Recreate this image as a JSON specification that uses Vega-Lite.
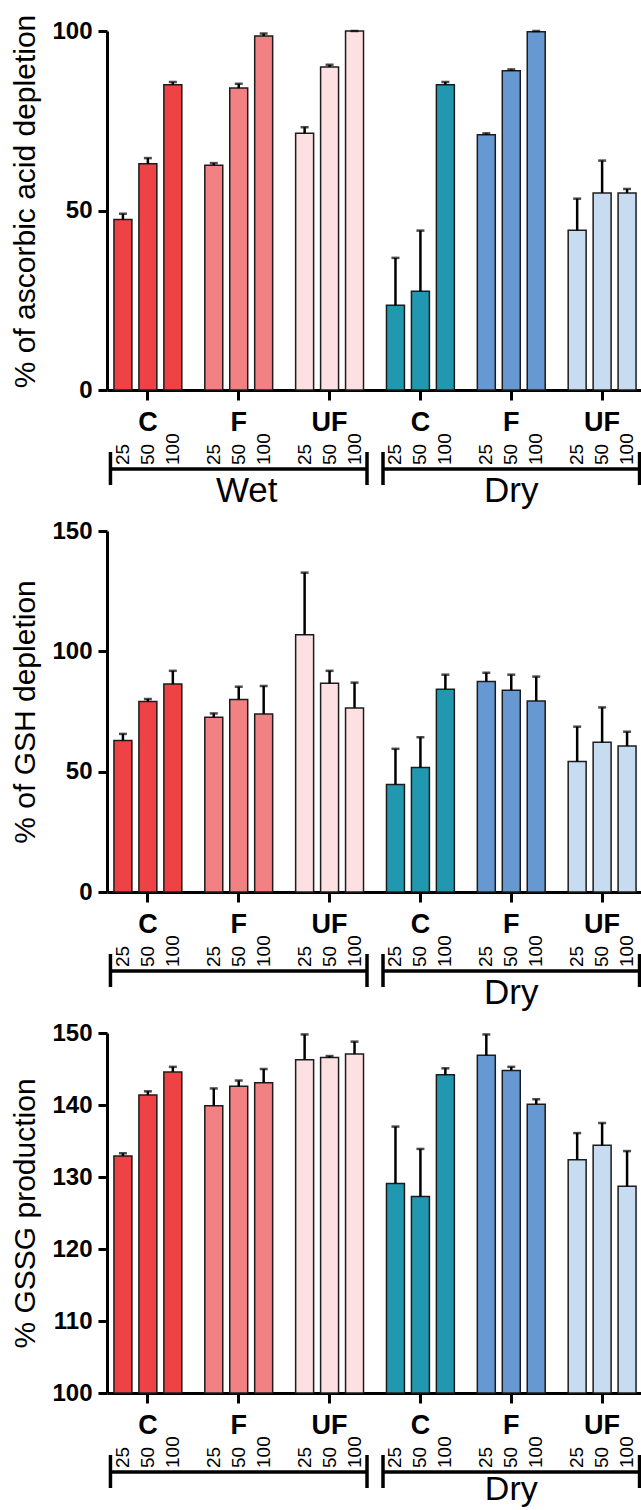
{
  "$schema": "https://vega.github.io/schema/vega-lite/v6.json",
  "background": "white",
  "padding": {"left": 10, "top": 14, "right": 0, "bottom": 0},
  "bounds": "flush",
  "spacing": 141,
  "config": {
    "font": "Liberation Sans",
    "view": {"stroke": null},
    "axis": {"grid": false, "domainColor": "black", "domainWidth": 3, "tickColor": "black", "tickWidth": 3, "labelColor": "black", "labelFont": "Liberation Sans", "labelFontWeight": "bold", "titleColor": "black", "titleFont": "Liberation Sans"},
    "axisX": {"labelFontSize": 27, "tickSize": 10, "labelPadding": 9, "labelAngle": 0},
    "axisY": {"labelFontSize": 24, "tickSize": 9, "labelPadding": 6, "titlePadding": 11, "titleFontSize": 30, "titleFontWeight": "normal"}
  },
  "datasets": {
    "d1": [
      {"grp": "Wet C", "conc": "25", "value": 47.5, "upper": 49.1},
      {"grp": "Wet C", "conc": "50", "value": 63.0, "upper": 64.6},
      {"grp": "Wet C", "conc": "100", "value": 85.0, "upper": 85.8},
      {"grp": "Wet F", "conc": "25", "value": 62.6, "upper": 63.2},
      {"grp": "Wet F", "conc": "50", "value": 84.1, "upper": 85.3},
      {"grp": "Wet F", "conc": "100", "value": 98.6, "upper": 99.3},
      {"grp": "Wet UF", "conc": "25", "value": 71.5, "upper": 73.2},
      {"grp": "Wet UF", "conc": "50", "value": 90.0, "upper": 90.6},
      {"grp": "Wet UF", "conc": "100", "value": 100.0, "upper": 100.0},
      {"grp": "Dry C", "conc": "25", "value": 23.6, "upper": 36.8},
      {"grp": "Dry C", "conc": "50", "value": 27.5, "upper": 44.4},
      {"grp": "Dry C", "conc": "100", "value": 85.0, "upper": 85.8},
      {"grp": "Dry F", "conc": "25", "value": 71.1, "upper": 71.5},
      {"grp": "Dry F", "conc": "50", "value": 88.9, "upper": 89.3},
      {"grp": "Dry F", "conc": "100", "value": 99.8, "upper": 100.0},
      {"grp": "Dry UF", "conc": "25", "value": 44.5, "upper": 53.3},
      {"grp": "Dry UF", "conc": "50", "value": 54.9, "upper": 63.9},
      {"grp": "Dry UF", "conc": "100", "value": 54.9, "upper": 56.0}
    ],
    "d2": [
      {"grp": "Wet C", "conc": "25", "value": 62.9, "upper": 65.7},
      {"grp": "Wet C", "conc": "50", "value": 79.2, "upper": 80.2},
      {"grp": "Wet C", "conc": "100", "value": 86.4, "upper": 91.9},
      {"grp": "Wet F", "conc": "25", "value": 72.6, "upper": 74.2},
      {"grp": "Wet F", "conc": "50", "value": 80.0, "upper": 85.3},
      {"grp": "Wet F", "conc": "100", "value": 74.0, "upper": 85.6},
      {"grp": "Wet UF", "conc": "25", "value": 106.9, "upper": 132.7},
      {"grp": "Wet UF", "conc": "50", "value": 86.7, "upper": 91.9},
      {"grp": "Wet UF", "conc": "100", "value": 76.5, "upper": 87.0},
      {"grp": "Dry C", "conc": "25", "value": 44.7, "upper": 59.5},
      {"grp": "Dry C", "conc": "50", "value": 51.7, "upper": 64.3},
      {"grp": "Dry C", "conc": "100", "value": 84.2, "upper": 90.3},
      {"grp": "Dry F", "conc": "25", "value": 87.5, "upper": 91.1},
      {"grp": "Dry F", "conc": "50", "value": 83.8, "upper": 90.3},
      {"grp": "Dry F", "conc": "100", "value": 79.4, "upper": 89.5},
      {"grp": "Dry UF", "conc": "25", "value": 54.2, "upper": 68.7},
      {"grp": "Dry UF", "conc": "50", "value": 62.2, "upper": 76.7},
      {"grp": "Dry UF", "conc": "100", "value": 60.7, "upper": 66.6}
    ],
    "d3": [
      {"grp": "Wet C", "conc": "25", "value": 132.9, "upper": 133.3},
      {"grp": "Wet C", "conc": "50", "value": 141.4, "upper": 141.9},
      {"grp": "Wet C", "conc": "100", "value": 144.6, "upper": 145.3},
      {"grp": "Wet F", "conc": "25", "value": 139.9, "upper": 142.3},
      {"grp": "Wet F", "conc": "50", "value": 142.6, "upper": 143.4},
      {"grp": "Wet F", "conc": "100", "value": 143.1, "upper": 145.0},
      {"grp": "Wet UF", "conc": "25", "value": 146.3, "upper": 149.8},
      {"grp": "Wet UF", "conc": "50", "value": 146.6, "upper": 146.8},
      {"grp": "Wet UF", "conc": "100", "value": 147.1, "upper": 148.8},
      {"grp": "Dry C", "conc": "25", "value": 129.1, "upper": 137.0},
      {"grp": "Dry C", "conc": "50", "value": 127.3, "upper": 133.9},
      {"grp": "Dry C", "conc": "100", "value": 144.2, "upper": 145.1},
      {"grp": "Dry F", "conc": "25", "value": 146.9, "upper": 149.8},
      {"grp": "Dry F", "conc": "50", "value": 144.8, "upper": 145.3},
      {"grp": "Dry F", "conc": "100", "value": 140.1, "upper": 140.8},
      {"grp": "Dry UF", "conc": "25", "value": 132.4, "upper": 136.1},
      {"grp": "Dry UF", "conc": "50", "value": 134.4, "upper": 137.5},
      {"grp": "Dry UF", "conc": "100", "value": 128.7, "upper": 133.6}
    ],
    "br": [
      {"cond": "Wet", "first": "Wet C", "mid": "Wet F", "last": "Wet UF"},
      {"cond": "Dry", "first": "Dry C", "mid": "Dry F", "last": "Dry UF"}
    ]
  },
  "vconcat": [
    {
      "width": 536,
      "height": 359,
      "layer": [
        {
          "data": {"name": "d1"},
          "mark": {"type": "bar", "stroke": "#1c1c1c", "strokeWidth": 1.5},
          "encoding": {
            "x": {"field": "grp", "type": "nominal", "title": null, "scale": {"domain": ["Wet C", "Wet F", "Wet UF", "Dry C", "Dry F", "Dry UF"], "paddingInner": 0.176, "paddingOuter": 0.038}, "axis": {"labelExpr": "split(datum.label, ' ')[1]"}},
            "xOffset": {"field": "conc", "type": "nominal", "scale": {"domain": ["25", "50", "100"], "paddingInner": 0.28, "paddingOuter": 0.14}},
            "y": {"field": "value", "type": "quantitative", "title": "% of ascorbic acid depletion", "scale": {"domain": [0, 100], "nice": false}, "axis": {"values": [0, 50, 100], "titleY": 170}},
            "color": {"field": "grp", "type": "nominal", "legend": null, "scale": {"domain": ["Wet C", "Wet F", "Wet UF", "Dry C", "Dry F", "Dry UF"], "range": ["#ee4245", "#f28183", "#fde0e1", "#2198b0", "#6698d1", "#c8dcf1"]}}
          }
        },
        {
          "data": {"name": "d1"},
          "mark": {"type": "rule", "color": "black", "strokeWidth": 2.5},
          "encoding": {
            "x": {"field": "grp", "type": "nominal", "title": null},
            "xOffset": {"field": "conc", "type": "nominal"},
            "y": {"field": "upper", "type": "quantitative", "title": "% of ascorbic acid depletion", "scale": {"domain": [0, 100], "nice": false}},
            "y2": {"field": "value"}
          }
        },
        {
          "data": {"name": "d1"},
          "mark": {"type": "tick", "color": "black", "thickness": 2.5, "size": 8},
          "encoding": {
            "x": {"field": "grp", "type": "nominal", "title": null},
            "xOffset": {"field": "conc", "type": "nominal"},
            "y": {"field": "upper", "type": "quantitative", "title": "% of ascorbic acid depletion", "scale": {"domain": [0, 100], "nice": false}}
          }
        },
        {
          "data": {"name": "d1"},
          "mark": {"type": "text", "angle": 270, "align": "left", "baseline": "middle", "dx": -75, "fontSize": 19, "color": "black"},
          "encoding": {
            "x": {"field": "grp", "type": "nominal", "title": null},
            "xOffset": {"field": "conc", "type": "nominal"},
            "y": {"value": "height"},
            "text": {"field": "conc"}
          }
        },
        {
          "data": {"name": "br"},
          "mark": {"type": "rule", "color": "black", "strokeWidth": 3.5, "yOffset": 79},
          "encoding": {
            "x": {"field": "first", "type": "nominal", "bandPosition": 0, "title": null},
            "x2": {"field": "last", "bandPosition": 1},
            "y": {"value": "height"}
          }
        },
        {
          "data": {"name": "br"},
          "mark": {"type": "rule", "color": "black", "strokeWidth": 3.5, "yOffset": 62, "y2Offset": 95},
          "encoding": {
            "x": {"field": "first", "type": "nominal", "bandPosition": 0, "title": null},
            "y": {"value": "height"},
            "y2": {"value": "height"}
          }
        },
        {
          "data": {"name": "br"},
          "mark": {"type": "rule", "color": "black", "strokeWidth": 3.5, "yOffset": 62, "y2Offset": 95},
          "encoding": {
            "x": {"field": "last", "type": "nominal", "bandPosition": 1, "title": null},
            "y": {"value": "height"},
            "y2": {"value": "height"}
          }
        },
        {
          "data": {"name": "br"},
          "transform": [{"filter": "datum.cond == 'Wet'"}],
          "mark": {"type": "text", "baseline": "middle", "dy": 101, "dx": 8, "fontSize": 35, "color": "black"},
          "encoding": {
            "x": {"field": "mid", "type": "nominal", "title": null},
            "y": {"value": "height"},
            "text": {"field": "cond"}
          }
        },
        {
          "data": {"name": "br"},
          "transform": [{"filter": "datum.cond == 'Dry'"}],
          "mark": {"type": "text", "baseline": "middle", "dy": 101, "fontSize": 35, "color": "black"},
          "encoding": {
            "x": {"field": "mid", "type": "nominal", "title": null},
            "y": {"value": "height"},
            "text": {"field": "cond"}
          }
        }
      ]
    },
    {
      "width": 536,
      "height": 361,
      "layer": [
        {
          "data": {"name": "d2"},
          "mark": {"type": "bar", "stroke": "#1c1c1c", "strokeWidth": 1.5},
          "encoding": {
            "x": {"field": "grp", "type": "nominal", "title": null, "scale": {"domain": ["Wet C", "Wet F", "Wet UF", "Dry C", "Dry F", "Dry UF"], "paddingInner": 0.176, "paddingOuter": 0.038}, "axis": {"labelExpr": "split(datum.label, ' ')[1]"}},
            "xOffset": {"field": "conc", "type": "nominal", "scale": {"domain": ["25", "50", "100"], "paddingInner": 0.28, "paddingOuter": 0.14}},
            "y": {"field": "value", "type": "quantitative", "title": "% of GSH depletion", "scale": {"domain": [0, 150], "nice": false}, "axis": {"values": [0, 50, 100, 150]}},
            "color": {"field": "grp", "type": "nominal", "legend": null, "scale": {"domain": ["Wet C", "Wet F", "Wet UF", "Dry C", "Dry F", "Dry UF"], "range": ["#ee4245", "#f28183", "#fde0e1", "#2198b0", "#6698d1", "#c8dcf1"]}}
          }
        },
        {
          "data": {"name": "d2"},
          "mark": {"type": "rule", "color": "black", "strokeWidth": 2.5},
          "encoding": {
            "x": {"field": "grp", "type": "nominal", "title": null},
            "xOffset": {"field": "conc", "type": "nominal"},
            "y": {"field": "upper", "type": "quantitative", "title": "% of GSH depletion", "scale": {"domain": [0, 150], "nice": false}},
            "y2": {"field": "value"}
          }
        },
        {
          "data": {"name": "d2"},
          "mark": {"type": "tick", "color": "black", "thickness": 2.5, "size": 8},
          "encoding": {
            "x": {"field": "grp", "type": "nominal", "title": null},
            "xOffset": {"field": "conc", "type": "nominal"},
            "y": {"field": "upper", "type": "quantitative", "title": "% of GSH depletion", "scale": {"domain": [0, 150], "nice": false}}
          }
        },
        {
          "data": {"name": "d2"},
          "mark": {"type": "text", "angle": 270, "align": "left", "baseline": "middle", "dx": -75, "fontSize": 19, "color": "black"},
          "encoding": {
            "x": {"field": "grp", "type": "nominal", "title": null},
            "xOffset": {"field": "conc", "type": "nominal"},
            "y": {"value": "height"},
            "text": {"field": "conc"}
          }
        },
        {
          "data": {"name": "br"},
          "mark": {"type": "rule", "color": "black", "strokeWidth": 3.5, "yOffset": 79},
          "encoding": {
            "x": {"field": "first", "type": "nominal", "bandPosition": 0, "title": null},
            "x2": {"field": "last", "bandPosition": 1},
            "y": {"value": "height"}
          }
        },
        {
          "data": {"name": "br"},
          "mark": {"type": "rule", "color": "black", "strokeWidth": 3.5, "yOffset": 62, "y2Offset": 95},
          "encoding": {
            "x": {"field": "first", "type": "nominal", "bandPosition": 0, "title": null},
            "y": {"value": "height"},
            "y2": {"value": "height"}
          }
        },
        {
          "data": {"name": "br"},
          "mark": {"type": "rule", "color": "black", "strokeWidth": 3.5, "yOffset": 62, "y2Offset": 95},
          "encoding": {
            "x": {"field": "last", "type": "nominal", "bandPosition": 1, "title": null},
            "y": {"value": "height"},
            "y2": {"value": "height"}
          }
        },
        {
          "data": {"name": "br"},
          "transform": [{"filter": "datum.cond == 'Dry'"}],
          "mark": {"type": "text", "baseline": "middle", "dy": 101, "fontSize": 35, "color": "black"},
          "encoding": {
            "x": {"field": "mid", "type": "nominal", "title": null},
            "y": {"value": "height"},
            "text": {"field": "cond"}
          }
        }
      ]
    },
    {
      "width": 536,
      "height": 360,
      "layer": [
        {
          "data": {"name": "d3"},
          "mark": {"type": "bar", "stroke": "#1c1c1c", "strokeWidth": 1.5},
          "encoding": {
            "x": {"field": "grp", "type": "nominal", "title": null, "scale": {"domain": ["Wet C", "Wet F", "Wet UF", "Dry C", "Dry F", "Dry UF"], "paddingInner": 0.176, "paddingOuter": 0.038}, "axis": {"labelExpr": "split(datum.label, ' ')[1]"}},
            "xOffset": {"field": "conc", "type": "nominal", "scale": {"domain": ["25", "50", "100"], "paddingInner": 0.28, "paddingOuter": 0.14}},
            "y": {"field": "value", "type": "quantitative", "title": "% GSSG production", "scale": {"domain": [100, 150], "zero": false, "nice": false}, "axis": {"values": [100, 110, 120, 130, 140, 150]}},
            "y2": {"datum": 100},
            "color": {"field": "grp", "type": "nominal", "legend": null, "scale": {"domain": ["Wet C", "Wet F", "Wet UF", "Dry C", "Dry F", "Dry UF"], "range": ["#ee4245", "#f28183", "#fde0e1", "#2198b0", "#6698d1", "#c8dcf1"]}}
          }
        },
        {
          "data": {"name": "d3"},
          "mark": {"type": "rule", "color": "black", "strokeWidth": 2.5},
          "encoding": {
            "x": {"field": "grp", "type": "nominal", "title": null},
            "xOffset": {"field": "conc", "type": "nominal"},
            "y": {"field": "upper", "type": "quantitative", "title": "% GSSG production", "scale": {"domain": [100, 150], "zero": false, "nice": false}},
            "y2": {"field": "value"}
          }
        },
        {
          "data": {"name": "d3"},
          "mark": {"type": "tick", "color": "black", "thickness": 2.5, "size": 8},
          "encoding": {
            "x": {"field": "grp", "type": "nominal", "title": null},
            "xOffset": {"field": "conc", "type": "nominal"},
            "y": {"field": "upper", "type": "quantitative", "title": "% GSSG production", "scale": {"domain": [100, 150], "zero": false, "nice": false}}
          }
        },
        {
          "data": {"name": "d3"},
          "mark": {"type": "text", "angle": 270, "align": "left", "baseline": "middle", "dx": -75, "fontSize": 19, "color": "black"},
          "encoding": {
            "x": {"field": "grp", "type": "nominal", "title": null},
            "xOffset": {"field": "conc", "type": "nominal"},
            "y": {"value": "height"},
            "text": {"field": "conc"}
          }
        },
        {
          "data": {"name": "br"},
          "mark": {"type": "rule", "color": "black", "strokeWidth": 3.5, "yOffset": 79},
          "encoding": {
            "x": {"field": "first", "type": "nominal", "bandPosition": 0, "title": null},
            "x2": {"field": "last", "bandPosition": 1},
            "y": {"value": "height"}
          }
        },
        {
          "data": {"name": "br"},
          "mark": {"type": "rule", "color": "black", "strokeWidth": 3.5, "yOffset": 62, "y2Offset": 95},
          "encoding": {
            "x": {"field": "first", "type": "nominal", "bandPosition": 0, "title": null},
            "y": {"value": "height"},
            "y2": {"value": "height"}
          }
        },
        {
          "data": {"name": "br"},
          "mark": {"type": "rule", "color": "black", "strokeWidth": 3.5, "yOffset": 62, "y2Offset": 95},
          "encoding": {
            "x": {"field": "last", "type": "nominal", "bandPosition": 1, "title": null},
            "y": {"value": "height"},
            "y2": {"value": "height"}
          }
        },
        {
          "data": {"name": "br"},
          "transform": [{"filter": "datum.cond == 'Dry'"}],
          "mark": {"type": "text", "baseline": "middle", "dy": 97, "fontSize": 34, "color": "black"},
          "encoding": {
            "x": {"field": "mid", "type": "nominal", "title": null},
            "y": {"value": "height"},
            "text": {"field": "cond"}
          }
        }
      ]
    }
  ]
}
